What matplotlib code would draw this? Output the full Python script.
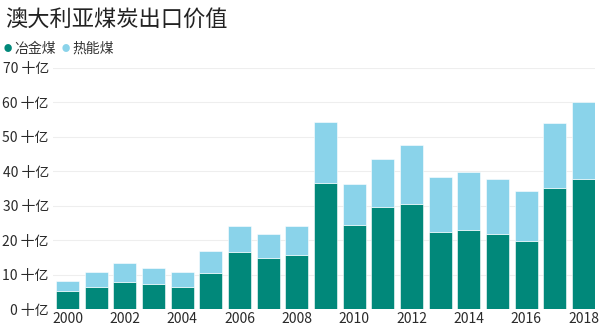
import matplotlib
matplotlib.use("Agg")
import matplotlib.pyplot as plt

plt.rcParams['font.family'] = ['Noto Sans CJK SC', 'DejaVu Sans']

years = list(range(2000, 2019))
metallurgical = [5.1, 6.5, 7.9, 7.3, 6.3, 10.6, 16.7, 14.8, 15.8, 36.6, 24.3, 29.6, 30.5, 22.3, 23.0, 21.7, 19.7, 35.2, 37.7]
totals = [8.2, 10.7, 13.3, 11.8, 10.7, 16.9, 24.1, 21.7, 24.2, 54.4, 36.2, 43.6, 47.6, 38.4, 39.8, 37.8, 34.4, 54.0, 60.0]
thermal = [t - m for t, m in zip(totals, metallurgical)]
yticks = [0, 10, 20, 30, 40, 50, 60, 70]
ytick_labels = [f"{v} 十亿" for v in yticks]
xticks = list(range(2000, 2019, 2))

c_met = "#01887A"
c_th = "#8AD3EA"

fig = plt.figure(figsize=(6.03, 3.33), dpi=100)
ax = fig.add_axes([53/603, 1 - 309/333, (595 - 53)/603, (309 - 68)/333])

ax.bar(years, metallurgical, width=0.8, color=c_met, edgecolor="white", linewidth=0.4, zorder=3)
ax.bar(years, thermal, bottom=metallurgical, width=0.8, color=c_th, edgecolor="white", linewidth=0.4, zorder=3)

ax.set_xlim(1999.495, 2018.4)
ax.set_ylim(0, 70)
ax.set_yticks(yticks)
ax.set_yticklabels(ytick_labels)
ax.set_xticks(xticks)
ax.set_xticklabels([str(x) for x in xticks])
ax.tick_params(axis='both', length=0, labelsize=10, colors="#2a2a2a")
ax.tick_params(axis='y', pad=3)
ax.tick_params(axis='x', pad=2)
for s in ax.spines.values():
    s.set_visible(False)
ax.yaxis.grid(True, color="#eeeeee", linewidth=0.8, zorder=0)
ax.set_axisbelow(True)

fig.text(5/603, 1 - 20/333, "澳大利亚煤炭出口价值", fontsize=16, va="center", ha="left", color="#222222")

# legend
fig.text(8/603, 1 - 49/333, "●", fontsize=6, color=c_met, va="center", ha="center")
fig.text(14/603, 1 - 49/333, "冶金煤", fontsize=10, color="#333333", va="center", ha="left")
fig.text(66/603, 1 - 49/333, "●", fontsize=6, color=c_th, va="center", ha="center")
fig.text(72/603, 1 - 49/333, "热能煤", fontsize=10, color="#333333", va="center", ha="left")

fig.savefig("out.png", dpi=100)
